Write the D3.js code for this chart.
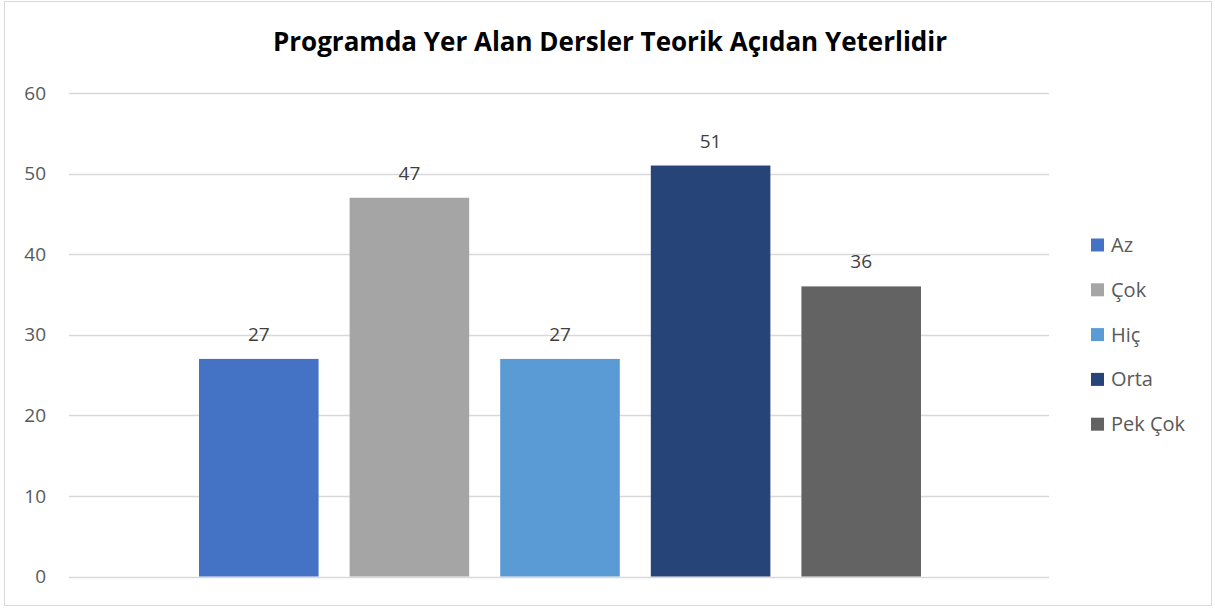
<!DOCTYPE html>
<html>
<head>
<meta charset="utf-8">
<script src="https://cdn.jsdelivr.net/npm/d3@7"></script>
<style>
  html, body { margin: 0; padding: 0; background: #fff; }
  text { font-family: "Open Sans", "Noto Sans", sans-serif; }
</style>
</head>
<body>
<svg id="chart" width="1215" height="608"></svg>
<script>
const title = "Programda Yer Alan Dersler Teorik Açıdan Yeterlidir";
const series = ["Az", "Çok", "Hiç", "Orta", "Pek Çok"];
const values = [27, 47, 27, 51, 36];
const colors = ["#4472C4", "#A5A5A5", "#5B9BD5", "#264478", "#636363"];
const yTicks = [0, 10, 20, 30, 40, 50, 60];

const svg = d3.select("#chart");

svg.append("rect")
  .attr("x", 4.5).attr("y", 1.5)
  .attr("width", 1207).attr("height", 604)
  .attr("fill", "#fff").attr("stroke", "#d9d9d9").attr("stroke-width", 1);

const plot = { left: 69, right: 1049, top: 93, bottom: 576.5 };

const y = d3.scaleLinear().domain([0, 60]).range([plot.bottom, plot.top]);
const x = d3.scaleBand().domain(series)
  .range([183.5, 936.5]).paddingInner(0.206).paddingOuter(0.103);

// gridlines
svg.append("g").selectAll("line").data(yTicks).join("line")
  .attr("x1", plot.left).attr("x2", plot.right)
  .attr("y1", d => Math.round(y(d)) + 0.5).attr("y2", d => Math.round(y(d)) + 0.5)
  .attr("stroke", "#d9d9d9").attr("stroke-width", 1.5);

// y axis labels
const yAxis = d3.axisLeft(y).tickValues(yTicks).tickSize(0).tickPadding(0);
const gy = svg.append("g").attr("transform", `translate(46,0)`).call(yAxis);
gy.select(".domain").remove();
gy.selectAll("text")
  .attr("fill", "#595959").style("font-size", "19px")
  .style("font-family", '"Open Sans", sans-serif');

// bars
svg.append("g").selectAll("rect").data(values).join("rect")
  .attr("x", (d, i) => x(series[i]))
  .attr("width", x.bandwidth())
  .attr("y", d => y(d))
  .attr("height", d => y(0) - y(d))
  .attr("fill", (d, i) => colors[i]);

// data labels
svg.append("g").selectAll("text").data(values).join("text")
  .attr("x", (d, i) => x(series[i]) + x.bandwidth() / 2)
  .attr("y", d => y(d) - 18)
  .attr("text-anchor", "middle")
  .attr("fill", "#404040").style("font-size", "19px")
  .text(d => d);

// title
svg.append("text")
  .attr("x", 610).attr("y", 51)
  .attr("text-anchor", "middle")
  .attr("fill", "#000").style("font-size", "26px").style("font-weight", "bold")
  .text(title);

// legend
const leg = svg.append("g").selectAll("g").data(series).join("g")
  .attr("transform", (d, i) => `translate(1091, ${245 + i * 44.8})`);
leg.append("rect").attr("x", 0).attr("y", -6.5).attr("width", 13).attr("height", 13)
  .attr("fill", (d, i) => colors[i]);
leg.append("text").attr("x", 20).attr("y", 0).attr("dy", "0.35em")
  .attr("fill", "#595959").style("font-size", "20px")
  .text(d => d);
</script>
</body>
</html>
